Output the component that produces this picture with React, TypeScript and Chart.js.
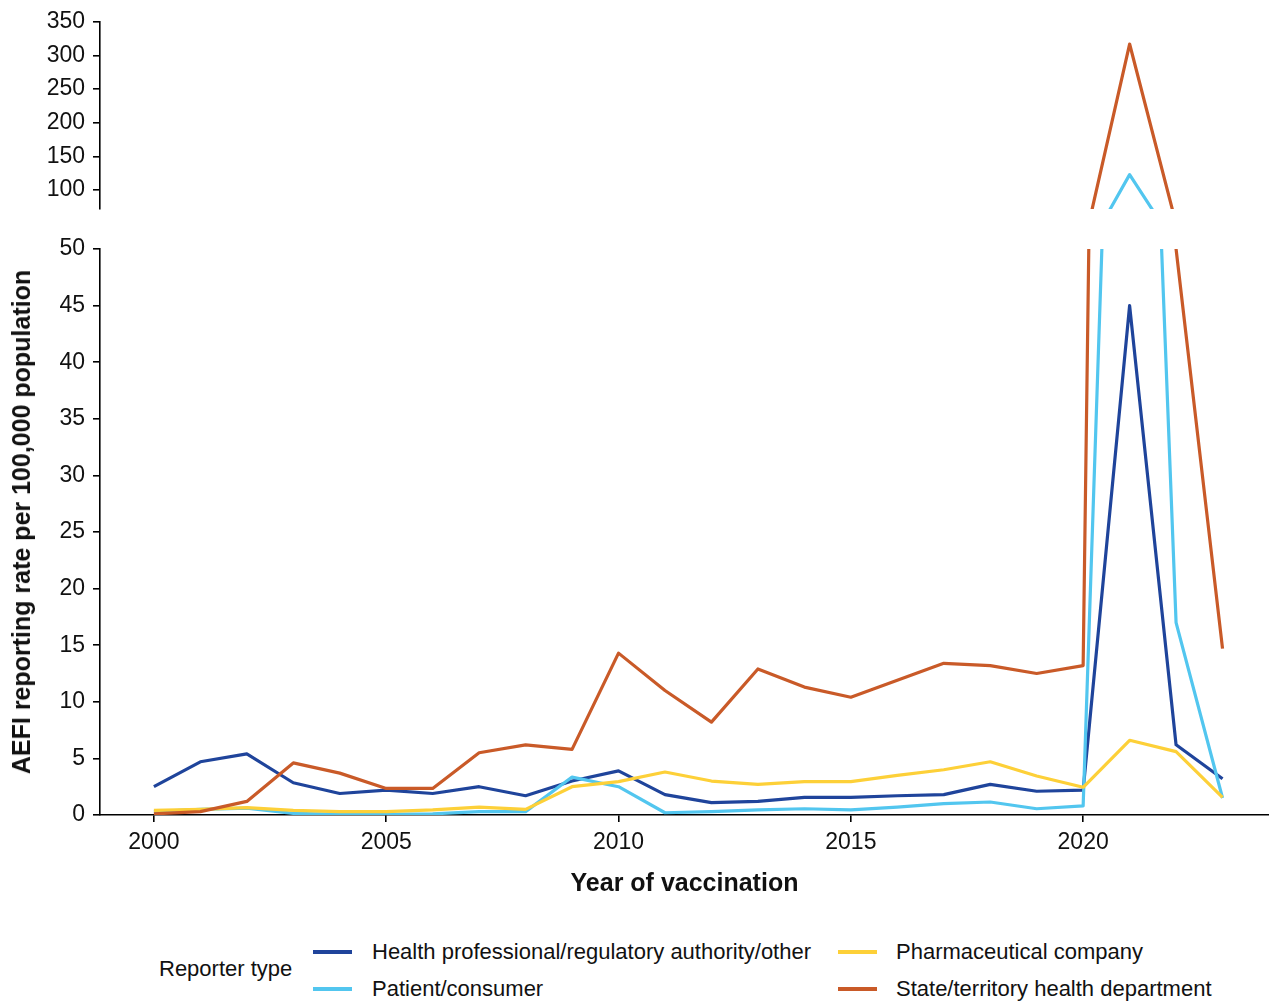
import React, { useEffect, useRef } from "react";
import { Chart, registerables } from "chart.js";

Chart.register(...registerables);

const years = [2000, 2001, 2002, 2003, 2004, 2005, 2006, 2007, 2008, 2009, 2010, 2011, 2012, 2013, 2014, 2015, 2016, 2017, 2018, 2019, 2020, 2021, 2022, 2023];

const healthProfessional = [2.5, 4.7, 5.4, 2.85, 1.9, 2.2, 1.9, 2.5, 1.7, 3.0, 3.9, 1.8, 1.1, 1.2, 1.55, 1.55, 1.7, 1.8, 2.7, 2.1, 2.2, 45, 6.2, 3.2];
const patientConsumer = [0.3, 0.5, 0.6, 0.15, 0.05, 0.05, 0.1, 0.3, 0.3, 3.35, 2.5, 0.2, 0.3, 0.45, 0.55, 0.45, 0.7, 1.0, 1.15, 0.55, 0.8, 123, 17, 1.5];
const pharmaceutical = [0.4, 0.5, 0.65, 0.4, 0.3, 0.3, 0.45, 0.7, 0.5, 2.5, 2.95, 3.8, 3.0, 2.7, 2.95, 2.95, 3.5, 4.0, 4.7, 3.45, 2.45, 6.6, 5.6, 1.55];
const stateTerritory = [0.1, 0.3, 1.2, 4.6, 3.7, 2.35, 2.35, 5.5, 6.2, 5.8, 14.3, 11.0, 8.2, 12.9, 11.3, 10.4, 11.9, 13.4, 13.2, 12.5, 13.2, 317, 50, 14.7];

const seriesLabels = [
  "Health professional/regulatory authority/other",
  "Patient/consumer",
  "Pharmaceutical company",
  "State/territory health department",
];
const seriesColors = ["#1f449b", "#52c6ef", "#fdd038", "#c95a28"];
const seriesValues = [healthProfessional, patientConsumer, pharmaceutical, stateTerritory];
const seriesOrder = [3, 2, 1, 0];

const xTicks = [2000, 2005, 2010, 2015, 2020];
const lowerYTicks = [0, 5, 10, 15, 20, 25, 30, 35, 40, 45, 50];
const upperYTicks = [100, 150, 200, 250, 300, 350];

const legendTitle = "Reporter type";
const xTitle = "Year of vaccination";
const yTitle = "AEFI reporting rate per 100,000 population";

const FONT = "'Liberation Sans', Arial, Helvetica, sans-serif";
const X_MIN = 1998.84;
const X_MAX = 2024.0;

function makeDatasets() {
  return seriesValues.map((vals, i) => ({
    label: seriesLabels[i],
    data: years.map((yr, j) => ({ x: yr, y: vals[j] })),
    borderColor: seriesColors[i],
    backgroundColor: seriesColors[i],
    borderWidth: 3.2,
    pointRadius: 0,
    tension: 0,
    order: seriesOrder[i],
    borderJoinStyle: "round" as const,
  }));
}

function yAxis(min: number, max: number, ticks: number[]) {
  return {
    type: "linear" as const,
    min,
    max,
    afterFit: (s: any) => {
      s.width = 100;
    },
    afterBuildTicks: (s: any) => {
      s.ticks = ticks.map((v) => ({ value: v }));
    },
    border: { display: true, color: "#000", width: 1.6 },
    grid: { display: true, drawOnChartArea: false, drawTicks: true, tickLength: 7, color: "#000", lineWidth: 1.6 },
    ticks: { color: "#111", padding: 8, font: { family: FONT, size: 23 } },
  };
}

export default function App() {
  const topRef = useRef<HTMLCanvasElement | null>(null);
  const botRef = useRef<HTMLCanvasElement | null>(null);

  useEffect(() => {
    document.body.style.margin = "0";
    const top = new Chart(topRef.current as HTMLCanvasElement, {
      type: "line",
      data: { datasets: makeDatasets() as any },
      options: {
        animation: false,
        responsive: false,
        maintainAspectRatio: false,
        layout: { padding: { top: 21, bottom: 31, left: 0, right: 0 } },
        plugins: { legend: { display: false }, tooltip: { enabled: false } },
        scales: {
          x: { type: "linear", min: X_MIN, max: X_MAX, display: false },
          y: yAxis(72, 350, upperYTicks) as any,
        },
      },
    });
    const bot = new Chart(botRef.current as HTMLCanvasElement, {
      type: "line",
      data: { datasets: makeDatasets() as any },
      options: {
        animation: false,
        responsive: false,
        maintainAspectRatio: false,
        layout: { padding: { top: 249, bottom: 0, left: 0, right: 0 } },
        plugins: { legend: { display: false }, tooltip: { enabled: false } },
        scales: {
          x: {
            type: "linear",
            min: X_MIN,
            max: X_MAX,
            afterFit: (s: any) => {
              s.height = 95;
            },
            afterBuildTicks: (s: any) => {
              s.ticks = xTicks.map((v) => ({ value: v }));
            },
            border: { display: true, color: "#000", width: 1.6 },
            grid: { display: true, drawOnChartArea: false, drawTicks: true, tickLength: 7, color: "#000", lineWidth: 1.6 },
            ticks: { color: "#111", padding: 7, maxRotation: 0, font: { family: FONT, size: 23 }, callback: (v: any) => String(v) },
            title: {
              display: true,
              text: xTitle,
              color: "#111",
              font: { family: FONT, size: 25, weight: "bold" },
              padding: { top: 0, bottom: 11 },
            },
          },
          y: yAxis(0, 50, lowerYTicks) as any,
        },
      },
    });
    return () => {
      top.destroy();
      bot.destroy();
    };
  }, []);

  const textStyle: React.CSSProperties = {
    position: "absolute",
    fontFamily: FONT,
    fontSize: 22,
    color: "#111",
    whiteSpace: "nowrap",
    lineHeight: "26px",
  };

  const legendItems = [
    { i: 0, sx: 313, tx: 372, y: 952 },
    { i: 1, sx: 313, tx: 372, y: 989 },
    { i: 2, sx: 838, tx: 896, y: 952 },
    { i: 3, sx: 838, tx: 896, y: 989 },
  ];

  return (
    <div style={{ position: "relative", width: 1269, height: 1003, background: "#fff", overflow: "hidden" }}>
      <canvas ref={botRef} width={1269} height={910} style={{ position: "absolute", left: 0, top: 0 }} />
      <canvas ref={topRef} width={1269} height={240} style={{ position: "absolute", left: 0, top: 0 }} />
      <div
        style={{
          position: "absolute",
          left: 21,
          top: 522,
          transform: "translate(-50%, -50%) rotate(-90deg)",
          fontFamily: FONT,
          fontSize: 25,
          fontWeight: "bold",
          color: "#111",
          whiteSpace: "nowrap",
          lineHeight: "28px",
        }}
      >
        {yTitle}
      </div>
      <div style={{ ...textStyle, left: 159, top: 969 - 13 }}>{legendTitle}</div>
      {legendItems.map((it) => (
        <React.Fragment key={it.i}>
          <div
            style={{
              position: "absolute",
              left: it.sx,
              top: it.y - 2,
              width: 39,
              height: 4,
              background: seriesColors[it.i],
            }}
          />
          <div style={{ ...textStyle, left: it.tx, top: it.y - 13 }}>{seriesLabels[it.i]}</div>
        </React.Fragment>
      ))}
    </div>
  );
}
